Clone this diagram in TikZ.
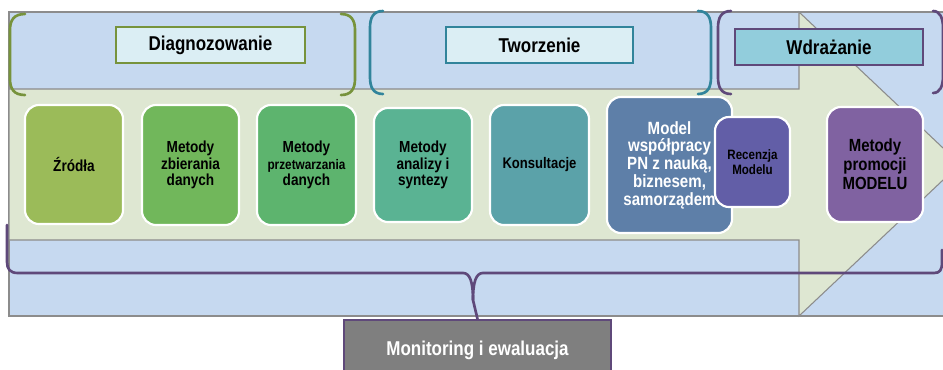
\documentclass[tikz,border=0pt]{standalone}
\usepackage{fontspec}
\setmainfont{Liberation Sans}[FakeStretch=0.85]
\begin{document}
\definecolor{bgblue}{HTML}{C6D9F0}
\definecolor{arrowgreen}{HTML}{DEE7D2}
\definecolor{edgegray}{HTML}{8C8C8C}
\definecolor{olive}{HTML}{77933C}
\definecolor{tealb}{HTML}{31849B}
\definecolor{plum}{HTML}{5F497A}
\definecolor{paleblue}{HTML}{DBEEF4}
\definecolor{cyanb}{HTML}{92CDDC}
\definecolor{cA}{HTML}{9BBB59}
\definecolor{cB}{HTML}{71B75B}
\definecolor{cC}{HTML}{5DB46E}
\definecolor{cD}{HTML}{5AB393}
\definecolor{cE}{HTML}{5BA2A9}
\definecolor{cF}{HTML}{5E7FA8}
\definecolor{cG}{HTML}{625EA7}
\definecolor{cH}{HTML}{8062A1}
\definecolor{monogray}{HTML}{7F7F7F}
\begin{tikzpicture}[x=0.75pt,y=-0.75pt,
  sz/.style 2 args={minimum width=#1*0.75pt, minimum height=#2*0.75pt, inner sep=0pt},
  stagebox/.style={draw=white, line width=1.6pt, rounded corners=10.5pt, align=center,
    font=\bfseries\fontsize{12}{12.2}\selectfont, text=black},
  header/.style={line width=1.6pt, font=\bfseries\fontsize{15}{16}\selectfont, inner sep=0pt},
  brk/.style={line width=2pt, line cap=round}]
\useasboundingbox (0,0) rectangle (943,369);
\clip (0,0) rectangle (943,369);

% background band and the light arrow on top of it
\draw[fill=bgblue, draw=edgegray, line width=0.8pt] (9,12) rectangle (1000,316);
\draw[fill=arrowgreen, draw=edgegray, line width=0.8pt]
  (9,89) -- (799,89) -- (799,12) -- (960,164) -- (799,316) -- (799,240) -- (9,240) -- cycle;

% phase brackets
\draw[brk, olive] (25,14) .. controls (14,14) and (10,20) .. (10,30) -- (10,79)
  .. controls (10,89) and (14,95) .. (25,95);
\draw[brk, olive] (341,14) .. controls (351,14) and (355,20) .. (355,30) -- (355,79)
  .. controls (355,89) and (351,95) .. (341,95);
\draw[brk, tealb] (383,11) .. controls (373,11) and (370,18) .. (370,28) -- (370,77)
  .. controls (370,87) and (373,94) .. (383,94);
\draw[brk, tealb] (698,11) .. controls (708,11) and (711,18) .. (711,28) -- (711,77)
  .. controls (711,87) and (708,94) .. (698,94);
\draw[brk, plum] (731,11) .. controls (721,11) and (718,18) .. (718,28) -- (718,77)
  .. controls (718,87) and (721,94) .. (731,94);
\draw[brk, plum] (933,11) .. controls (940,11) and (943,18) .. (943,28) -- (943,76)
  .. controls (943,86) and (940,93) .. (933,93);

% phase headers
\node[header, sz={189}{36}, draw=olive, fill=paleblue] (hdiag) at (210.5,45) {Diagnozowanie};
\node[header, sz={187}{36}, draw=tealb, fill=paleblue] (htworz) at (539.5,45) {Tworzenie};
\node[header, sz={188}{36}, draw=plum, fill=cyanb] (hwdr) at (829,47) {Wdrażanie};

% stage boxes
\node[stagebox, sz={98}{119}, fill=cA] (src) at (74,164.5) {Źródła};
\node[stagebox, sz={97}{120}, fill=cB] (zbier) at (190.5,165) {Metody\\zbierania\\danych};
\node[stagebox, sz={99}{120}, fill=cC] (przetw) at (306.5,165)
  {Metody\\{\fontsize{10.4}{12.2}\selectfont przetwarzania}\\danych};
\node[stagebox, sz={98}{114}, fill=cD] (anal) at (423,165) {Metody\\analizy i\\syntezy};
\node[stagebox, sz={99}{120}, fill=cE, font=\bfseries\fontsize{11.5}{12}\selectfont] (kons) at (539.5,165) {Konsultacje};
\node[stagebox, sz={125}{136}, fill=cF, text=white, font=\bfseries\fontsize{13.3}{13.3}\selectfont]
  (model) at (669.5,165) {Model\\współpracy\\PN z nauką,\\biznesem,\\samorządem};
\node[stagebox, sz={75}{90}, fill=cG, font=\bfseries\fontsize{10.2}{11.3}\selectfont]
  (recen) at (752.5,162) {Recenzja\\Modelu};
\node[stagebox, sz={96}{115}, fill=cH, font=\bfseries\fontsize{13.2}{14.4}\selectfont]
  (promo) at (875,164.5) {Metody\\promocji\\MODELU};

% monitoring box and its brace
\node[sz={267}{60}, draw=plum, line width=1.6pt, fill=monogray, text=white,
  font=\bfseries\fontsize{15}{16}\selectfont] (mon) at (477.5,350) {Monitoring i ewaluacja};
\draw[brk, plum] (7,225) -- (7,262) .. controls (7,269) and (10,273) .. (18,273) -- (463,273)
  .. controls (470,273) and (473,282) .. (473,300) -- (mon.north);
\draw[brk, plum] (473,300) .. controls (473,282) and (476,273) .. (483,273) -- (934,273)
  .. controls (940,273) and (942,270) .. (942,262) -- (942,250);
\end{tikzpicture}
\end{document}
